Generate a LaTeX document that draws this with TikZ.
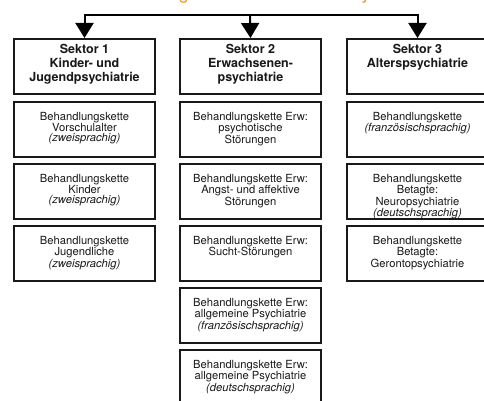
\documentclass[tikz,border=0pt]{standalone}
\usepackage{fontspec}
\setmainfont{TeX Gyre Heros}
\usepackage{xcolor}
\usetikzlibrary{arrows.meta}
\definecolor{titelorange}{RGB}{228,160,30}
\tikzset{
    sektor-box/.style = {draw=black!90, text=black!90, fill=white, line width=2pt, rectangle, inner sep=0pt, anchor=north west,
        execute at begin node={\begin{minipage}[t][55pt][t]{141pt}\centering\fontsize{12.5}{14}\selectfont\bfseries\vspace*{5pt}},
        execute at end node={\end{minipage}}},
    kette-box/.style = {draw=black!90, text=black!90, fill=white, line width=2pt, rectangle, inner sep=0pt, anchor=north west,
        execute at begin node={\begin{minipage}[t][55pt][t]{141pt}\centering\fontsize{11.2}{9.4}\selectfont\vspace*{10pt}},
        execute at end node={\end{minipage}}},
    sektor-arrow/.style = {draw=black, line width=2pt, -{Triangle[width=18pt,length=15pt]}},
    titel-frag/.style = {text=titelorange, font=\fontsize{18}{20}\selectfont, anchor=base, inner sep=0pt},
}

\begin{document}
\begin{tikzpicture}[x=1pt, y=-1pt]
\useasboundingbox (0,0) rectangle (484,401);
\node[titel-frag] (t1) at (184,0) {g};
\node[titel-frag] (t2) at (366,0) {y};
\coordinate (split) at (250,15.5);
\node [sektor-box] (s1) at (13,38) {Sektor 1\\Kinder- und\\Jugendpsychiatrie};
\node [sektor-box] (s2) at (179,38) {Sektor 2\\Erwachsenen-\\psychiatrie};
\node [sektor-box] (s3) at (346,38) {Sektor 3\\Alterspsychiatrie};
\draw[sektor-arrow] (split) -| (s1.north);
\draw[sektor-arrow] (split) -- (s2.north);
\draw[sektor-arrow] (split) -| (s3.north);
% Sektor 1
\node [kette-box] (k11) at (13,101) {Behandlungskette\\Vorschulalter\\\textit{(zweisprachig)}};
\node [kette-box] (k12) at (13,163) {Behandlungskette\\Kinder\\\textit{(zweisprachig)}};
\node [kette-box] (k13) at (13,225) {Behandlungskette\\Jugendliche\\\textit{(zweisprachig)}};
% Sektor 2
\node [kette-box] (k21) at (179,101) {Behandlungskette Erw:\\psychotische\\Störungen};
\node [kette-box] (k22) at (179,163) {Behandlungskette Erw:\\Angst- und affektive\\Störungen};
\node [kette-box] (k23) at (179,225) {Behandlungskette Erw:\\Sucht-Störungen};
\node [kette-box] (k24) at (179,287) {Behandlungskette Erw:\\allgemeine Psychiatrie\\\textit{(französischsprachig)}};
\node [kette-box] (k25) at (179,349) {Behandlungskette Erw:\\allgemeine Psychiatrie\\\textit{(deutschsprachig)}};
% Sektor 3
\node [kette-box] (k31) at (346,101) {Behandlungskette\\\textit{(französischsprachig)}};
\node [kette-box] (k32) at (346,163) {Behandlungskette\\Betagte:\\Neuropsychiatrie\\\textit{(deutschsprachig)}};
\node [kette-box] (k33) at (346,225) {Behandlungskette\\Betagte:\\Gerontopsychiatrie};
\end{tikzpicture}
\end{document}
